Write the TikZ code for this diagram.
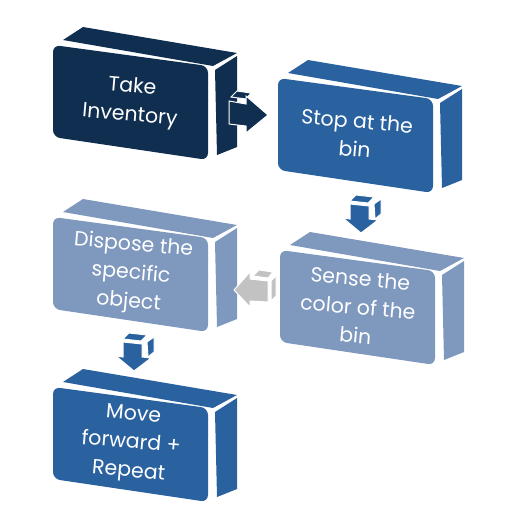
\documentclass[tikz,border=0pt]{standalone}
\usepackage{fontspec}
\setmainfont{Poppins}
\definecolor{navybox}{HTML}{0F2E50}
\definecolor{bluebox}{HTML}{2A62A0}
\definecolor{greybox}{HTML}{7F98BE}
\definecolor{greyarrow}{HTML}{C2C2C2}

% 3d box: x, y, colour, name, text
\newcommand{\cubebox}[5]{%
	\begin{scope}[shift={(#1,#2)}]
		\fill[#3] (10,-5) -- (30,-18) -- (184,8) -- (160,21) -- cycle;
		\fill[#3] (162,25) -- (184,11) -- (184,102) -- (164,110) -- cycle;
		\fill[#3,rounded corners=7pt] (0,0) -- (155,21) -- (155,115) -- (0,92) -- cycle;
		\node[boxtext] (#4) at (78,57) {#5};
	\end{scope}}

% small 3d arrow pointing down: x, y, colour
\newcommand{\downarr}[3]{%
	\begin{scope}[shift={(#1,#2)}]
		\filldraw[#3,draw=white,line width=1pt] (0,6) -- (6,0) -- (24,2) -- (18,8) -- cycle;
		\filldraw[#3,draw=white,line width=1pt] (24,9) -- (31,4) -- (31,19) -- (25,24) -- cycle;
		\filldraw[#3,draw=white,line width=1pt] (0,9) -- (19,11) -- (19,24) -- (28,25) -- (11,38) -- (-7,23) -- (0,24) -- cycle;
	\end{scope}}

\begin{document}
\begin{tikzpicture}[x=1pt,y=-1pt,
	boxtext/.style={text=white,align=center,rotate=-5,inner sep=0pt,font=\fontsize{20.5}{28.5}\selectfont}]

\useasboundingbox (0,0) rectangle (530,531);

%%%%%%%%%%%%%%%%%%%%%%%%%%%%%%%%%%%%%%

\cubebox{53}{45}{navybox}{take}{Take\\Inventory}
\cubebox{278}{78}{bluebox}{stop}{Stop at the\\bin}
\cubebox{280}{250}{greybox}{sense}{Sense the\\color of the\\bin}
\cubebox{53}{217}{greybox}{dispose}{Dispose the\\specific\\object}
\cubebox{53}{387}{bluebox}{move}{Move\\forward +\\Repeat}

%%%%%%%%%%%%%%%%%%%%%%%%%%%%%%%%%%%%%%

\filldraw[navybox,draw=white,line width=1pt] (231,97) -- (237,91) -- (251,93) -- (246,99) -- cycle;
\filldraw[navybox,draw=white,line width=1pt] (229,101) -- (246,104) -- (246,96) -- (268,115) -- (246,133) -- (246,126) -- (229,124) -- cycle;

\downarr{350}{195}{bluebox}

\filldraw[greyarrow,draw=white,line width=1pt] (253,276) -- (259,270) -- (273,272) -- (268,278) -- cycle;
\filldraw[greyarrow,draw=white,line width=1pt] (271,281) -- (276,276) -- (276,296) -- (271,301) -- cycle;
\filldraw[greyarrow,draw=white,line width=1pt] (268,281) -- (250,279) -- (250,272) -- (234,290) -- (250,307) -- (250,301) -- (268,302) -- cycle;

\downarr{123}{333}{bluebox}

\end{tikzpicture}
\end{document}
